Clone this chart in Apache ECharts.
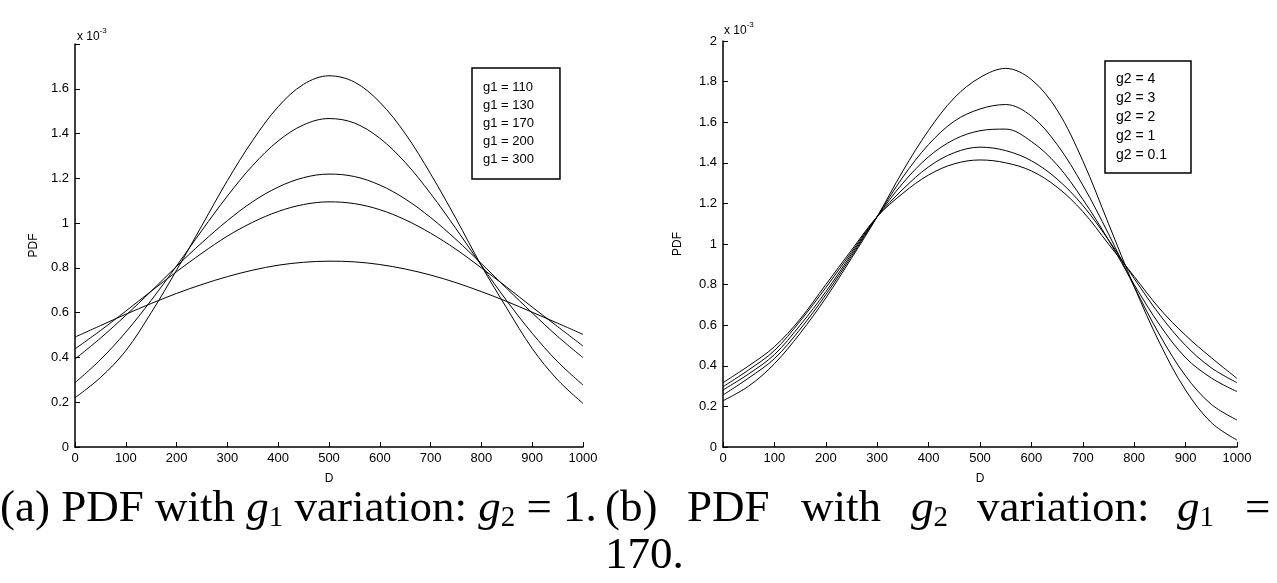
<!DOCTYPE html>
<html>
<head>
<meta charset="utf-8">
<script src="https://cdn.jsdelivr.net/npm/echarts@6/dist/echarts.min.js"></script>
<style>
  html, body { margin: 0; padding: 0; background: #fff; }
  #chart { width: 1277px; height: 583px; }
</style>
</head>
<body>
<div id="chart"></div>
<script>
// D values (x axis), every 50
var dValues = [0, 50, 100, 150, 200, 250, 300, 350, 400, 450, 500, 550, 600, 650, 700, 750, 800, 850, 900, 950, 1000];
var xTicks = [0, 100, 200, 300, 400, 500, 600, 700, 800, 900, 1000];

// (a) g1 variation, g2 = 1  (PDF in units of 1e-3)
var g1Names = ["g1 = 110", "g1 = 130", "g1 = 170", "g1 = 200", "g1 = 300"];
var g1_110 = [0.22, 0.31, 0.43, 0.60, 0.79, 0.99, 1.19, 1.37, 1.52, 1.62, 1.658, 1.63, 1.54, 1.40, 1.22, 1.02, 0.81, 0.62, 0.44, 0.30, 0.195];
var g1_130 = [0.287, 0.39, 0.513, 0.655, 0.809, 0.968, 1.121, 1.258, 1.367, 1.439, 1.467, 1.447, 1.379, 1.271, 1.132, 0.975, 0.811, 0.653, 0.508, 0.381, 0.277];
var g1_170 = [0.393, 0.486, 0.588, 0.696, 0.807, 0.913, 1.011, 1.096, 1.161, 1.203, 1.219, 1.208, 1.170, 1.108, 1.025, 0.927, 0.819, 0.708, 0.599, 0.494, 0.399];
var g1_200 = [0.438, 0.520, 0.607, 0.696, 0.783, 0.866, 0.942, 1.004, 1.052, 1.083, 1.095, 1.087, 1.060, 1.015, 0.955, 0.883, 0.800, 0.714, 0.625, 0.538, 0.451];
var g1_300 = [0.491, 0.542, 0.593, 0.641, 0.686, 0.726, 0.761, 0.790, 0.812, 0.825, 0.830, 0.827, 0.815, 0.795, 0.768, 0.734, 0.694, 0.650, 0.602, 0.553, 0.503];

// (b) g2 variation, g1 = 170
var g2Names = ["g2 = 4", "g2 = 3", "g2 = 2", "g2 = 1", "g2 = 0.1"];
var g2_4 = [0.228, 0.30, 0.41, 0.56, 0.734, 0.93, 1.135, 1.36, 1.56, 1.72, 1.82, 1.865, 1.81, 1.66, 1.41, 1.10, 0.79, 0.51, 0.28, 0.12, 0.034];
var g2_3 = [0.256, 0.34, 0.435, 0.58, 0.75, 0.94, 1.135, 1.33, 1.49, 1.605, 1.665, 1.687, 1.63, 1.49, 1.29, 1.05, 0.79, 0.55, 0.35, 0.21, 0.133];
var g2_2 = [0.281, 0.36, 0.455, 0.60, 0.765, 0.95, 1.135, 1.30, 1.43, 1.515, 1.558, 1.566, 1.505, 1.39, 1.22, 1.02, 0.80, 0.60, 0.44, 0.34, 0.273];
var g2_1 = [0.297, 0.38, 0.475, 0.62, 0.785, 0.96, 1.135, 1.27, 1.38, 1.45, 1.477, 1.46, 1.41, 1.32, 1.19, 1.02, 0.83, 0.65, 0.50, 0.39, 0.317];
var g2_01 = [0.317, 0.40, 0.494, 0.63, 0.80, 0.97, 1.135, 1.25, 1.34, 1.395, 1.414, 1.40, 1.36, 1.28, 1.16, 1.00, 0.84, 0.68, 0.55, 0.44, 0.338];

var yTicksA = [0, 0.2, 0.4, 0.6, 0.8, 1, 1.2, 1.4, 1.6];
var yTicksB = [0, 0.2, 0.4, 0.6, 0.8, 1, 1.2, 1.4, 1.6, 1.8, 2];

var sans = "Liberation Sans";
var serif = "Liberation Serif";

function pairs(arr) {
  return dValues.map(function (d, i) { return [d, arr[i]]; });
}

function lineSeries(name, arr, idx) {
  return {
    name: name,
    type: "line",
    xAxisIndex: idx,
    yAxisIndex: idx,
    data: pairs(arr),
    smooth: 0.35,
    showSymbol: false,
    silent: true,
    lineStyle: { color: "#000", width: 1 }
  };
}

function xAxisCfg(idx) {
  return {
    gridIndex: idx,
    type: "value",
    min: 0,
    max: 1000,
    interval: 100,
    name: "D",
    nameLocation: "middle",
    nameGap: 26,
    nameTextStyle: { fontFamily: sans, fontSize: 12, color: "#000" },
    axisLine: { lineStyle: { color: "#000", width: 1.5 } },
    axisTick: { inside: true, length: 5, lineStyle: { color: "#000" } },
    axisLabel: {
      fontFamily: sans, fontSize: 13, color: "#000", margin: 5,
      formatter: function (v) { return xTicks.indexOf(v) >= 0 ? String(v) : ""; }
    },
    splitLine: { show: false }
  };
}

function yAxisCfg(idx, max, ticks, gap) {
  return {
    gridIndex: idx,
    type: "value",
    min: 0,
    max: max,
    interval: 0.2,
    name: "PDF",
    nameLocation: "middle",
    nameGap: gap,
    nameTextStyle: { fontFamily: sans, fontSize: 12, color: "#000" },
    axisLine: { lineStyle: { color: "#000", width: 1.5 } },
    axisTick: { inside: true, length: 5, lineStyle: { color: "#000" } },
    axisLabel: {
      fontFamily: sans, fontSize: 13, color: "#000", margin: 6,
      formatter: function (v) {
        var r = Math.round(v * 10) / 10;
        return ticks.indexOf(r) >= 0 ? String(r) : "";
      }
    },
    splitLine: { show: false }
  };
}

function legendCfg(names, left, top, pad, fs) {
  return {
    data: names,
    orient: "vertical",
    left: left,
    top: top,
    icon: "none",
    itemWidth: 0,
    itemHeight: 10,
    itemGap: 5,
    padding: pad,
    borderColor: "#000",
    borderWidth: 1.5,
    selectedMode: false,
    textStyle: { fontFamily: sans, fontSize: fs, color: "#000" }
  };
}

var captionRich = {
  n: { fontFamily: serif, fontSize: 45, color: "#000", lineHeight: 46 },
  i: { fontFamily: serif, fontSize: 45, fontStyle: "italic", color: "#000", lineHeight: 46 },
  s: { fontFamily: serif, fontSize: 29, color: "#000", lineHeight: 46, verticalAlign: "bottom" }
};

function captionText(left, top, text) {
  return { type: "text", left: left, top: top, style: { text: text, rich: captionRich } };
}

function sciLabel(left, top) {
  return {
    type: "text", left: left, top: top,
    style: {
      text: "{a|x 10}{b|-3}",
      rich: {
        a: { fontFamily: sans, fontSize: 12, color: "#000", lineHeight: 16, verticalAlign: "bottom" },
        b: { fontFamily: sans, fontSize: 8, color: "#000", lineHeight: 16, verticalAlign: "top" }
      }
    }
  };
}

var chart = echarts.init(document.getElementById("chart"));
chart.setOption({
  backgroundColor: "#fff",
  animation: false,
  grid: [
    { left: 75, right: 694, top: 44, bottom: 136 },
    { left: 723, right: 40, top: 41, bottom: 136 }
  ],
  xAxis: [xAxisCfg(0), xAxisCfg(1)],
  yAxis: [yAxisCfg(0, 1.8, yTicksA, 35), yAxisCfg(1, 2, yTicksB, 39)],
  legend: [
    legendCfg(g1Names, 472, 68, [13, 26, 13, 6], 13),
    legendCfg(g2Names, 1105, 61, [11, 24, 11, 6], 14)
  ],
  series: [
    lineSeries(g1Names[0], g1_110, 0),
    lineSeries(g1Names[1], g1_130, 0),
    lineSeries(g1Names[2], g1_170, 0),
    lineSeries(g1Names[3], g1_200, 0),
    lineSeries(g1Names[4], g1_300, 0),
    lineSeries(g2Names[0], g2_4, 1),
    lineSeries(g2Names[1], g2_3, 1),
    lineSeries(g2Names[2], g2_2, 1),
    lineSeries(g2Names[3], g2_1, 1),
    lineSeries(g2Names[4], g2_01, 1)
  ],
  graphic: [
    sciLabel(77, 27),
    sciLabel(724, 21),
    // caption (a), one line
    captionText(0, 487, "{n|(a) PDF with }{i|g}{s|1}{n| variation: }{i|g}{s|2}{n| = 1.}"),
    // caption (b), justified over its column, last line left aligned
    captionText(605, 487, "{n|(b)}"),
    captionText(687, 487, "{n|PDF}"),
    captionText(801, 487, "{n|with}"),
    captionText(911, 487, "{i|g}{s|2}"),
    captionText(977, 487, "{n|variation:}"),
    captionText(1177, 487, "{i|g}{s|1}"),
    captionText(1245, 487, "{n|=}"),
    captionText(605, 534, "{n|170.}")
  ]
});
</script>
</body>
</html>
